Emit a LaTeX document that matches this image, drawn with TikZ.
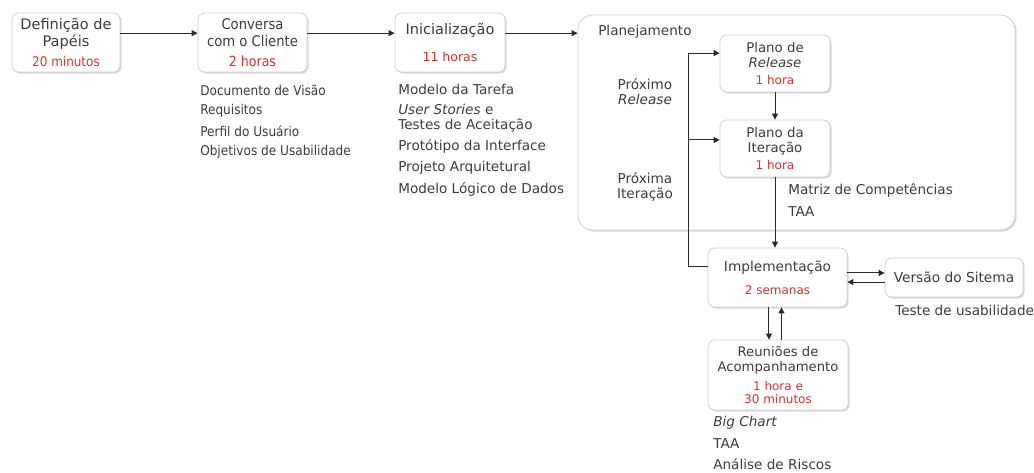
\documentclass[tikz,border=0pt]{standalone}
\usepackage{fontspec}
\setmainfont{DejaVu Sans}
\newfontfamily\condf{DejaVu Sans Condensed}
\usetikzlibrary{arrows.meta,shadows}
\definecolor{txt}{HTML}{3C3C3C}
\definecolor{tred}{HTML}{D03434}
\definecolor{bord}{HTML}{D0D0D0}
\definecolor{ln}{HTML}{2A2A2A}
\newcommand{\tm}[1]{{\color{tred}#1}}
\newcommand{\fs}[2]{\fontsize{#1}{#2}\selectfont}
\begin{document}
\begin{tikzpicture}[x=0.75pt,y=-0.75pt,
  every node/.style={text=txt,font=\fs{10.2}{12}},
  box/.style={draw=bord,fill=white,rounded corners=5pt,line width=0.6pt,align=center,inner sep=0pt,
     drop shadow={shadow xshift=1.2pt,shadow yshift=-1.2pt,opacity=0.25,fill=black!60}},
  lbl/.style={anchor=west,inner sep=0pt},
  clbl/.style={anchor=west,inner sep=0pt,font=\condf\fs{10.1}{12}},
  arr/.style={draw=ln,line width=0.75pt,-{Triangle[length=4.5pt,width=4.5pt]}},
  ln/.style={draw=ln,line width=0.75pt}]
\useasboundingbox (0,0) rectangle (1034,473);

% container
\node[box,rounded corners=11pt,minimum width=327.75pt,minimum height=161.25pt] (plan) at (796.5,122.5) {};
\node[lbl] (plant) at (598,32) {Planejamento};

% boxes
\node[box,font=\fs{10.9}{12.75},minimum width=81pt,minimum height=44.25pt] (b1) at (66,42.5)
  {Definição de\\Papéis\\[2pt]{\condf\fs{10}{12}\tm{20 minutos}}};
\node[box,font=\condf\fs{11}{12.75},minimum width=81.75pt,minimum height=44.25pt] (b2) at (252.5,42.5)
  {Conversa\\com o Cliente\\[2pt]{\fs{10.5}{12}\tm{2 horas}}};
\node[box,font=\fs{10.9}{12.75},minimum width=82.5pt,minimum height=44.25pt] (b3) at (450,42.5)
  {\raisebox{-2pt}{Inicialização}\\[10pt]{\fs{9.4}{11}\tm{11 horas}}};
\node[box,font=\fs{10}{11.25},minimum width=82.5pt,minimum height=42.75pt] (prel) at (775,63.5)
  {Plano de\\\textit{Release}\\[2pt]{\fs{9}{11}\tm{1 hora}}};
\node[box,font=\fs{10}{11.25},minimum width=82.5pt,minimum height=42.75pt] (pit) at (775,148.5)
  {Plano da\\Iteração\\[2pt]{\fs{9}{11}\tm{1 hora}}};
\node[box,font=\fs{10.3}{12},minimum width=104.25pt,minimum height=44.25pt] (impl) at (777.5,277.5)
  {Implementação\\[5pt]{\fs{9}{11}\tm{2 semanas}}};
\node[box,font=\fs{10.3}{12},minimum width=103.5pt,minimum height=29.25pt] (vers) at (954,277.5) {Versão do Sitema};
\node[box,font=\fs{9.9}{11.25},minimum width=105pt,minimum height=52.5pt] (reun) at (778,375)
  {Reuniões de\\Acompanhamento\\[2.5pt]{\fs{9}{9.2}\tm{1 hora e}}\\[-1.5pt]{\fs{9}{9.2}\tm{30 minutos}}};

% side labels
\node[align=center,inner sep=0pt,font=\fs{10.2}{11.25}] (prox1) at (645,92) {Próximo\\\textit{Release}};
\node[align=center,inner sep=0pt,font=\fs{10.2}{11.25}] (prox2) at (645,187) {Próxima\\Iteração};
\node[lbl] (mc) at (788,190) {Matriz de Competências};
\node[lbl] (taa1) at (788,212) {TAA};
\node[lbl] (tu) at (895,310) {Teste de usabilidade};

% lists
\node[clbl] (l21) at (200,90) {Documento de Visão};
\node[clbl] (l22) at (200,110.5) {Requisitos};
\node[clbl] (l23) at (200,131) {Perfil do Usuário};
\node[clbl] (l24) at (200,152) {Objetivos de Usabilidade};

\node[lbl] (l31) at (398,89) {Modelo da Tarefa};
\node[lbl,align=left,font=\fs{10.2}{11.25}] (l32) at (398,118) {\textit{User Stories} e\\Testes de Aceitação};
\node[lbl] (l33) at (398,146) {Protótipo da Interface};
\node[lbl] (l34) at (398,167.5) {Projeto Arquitetural};
\node[lbl] (l35) at (398,189) {Modelo Lógico de Dados};

\node[lbl] (r1) at (713,423) {\textit{Big Chart}};
\node[lbl] (r2) at (713,444) {TAA};
\node[lbl] (r3) at (713,464.5) {Análise de Riscos};

% connectors
\draw[arr] ([yshift=7pt]b1.east) -- ([yshift=7pt]b2.west);
\draw[arr] ([yshift=7pt]b2.east) -- ([yshift=7pt]b3.west);
\coordinate (p3) at ([yshift=7pt]b3.east);
\draw[arr] (p3) -- (p3 -| plan.west);

\draw[arr] (prel.south) -- (pit.north);
\draw[arr] (pit.south) -- (pit.south |- impl.north);

\coordinate (lx) at (688,0);
\coordinate (pr) at ([yshift=7.8pt]prel.west);
\coordinate (pi) at ([yshift=6.4pt]pit.west);
\coordinate (im) at ([yshift=7.9pt]impl.west);
\draw[ln] (im) -- (im -| lx) -- (lx |- pr);
\draw[arr] (lx |- pr) -- (pr);
\draw[arr] (lx |- pi) -- (pi);

\draw[arr] ([yshift=3.4pt]impl.east) -- ([yshift=3.4pt]impl.east -| vers.west);
\draw[arr] ([yshift=-3.4pt]vers.west) -- ([yshift=-3.4pt]vers.west -| impl.east);

\draw[arr] ([xshift=-6.4pt]impl.south) -- ([xshift=-6.4pt]impl.south |- reun.north);
\draw[arr] ([xshift=2.6pt]reun.north) -- ([xshift=2.6pt]reun.north |- impl.south);
\end{tikzpicture}
\end{document}
